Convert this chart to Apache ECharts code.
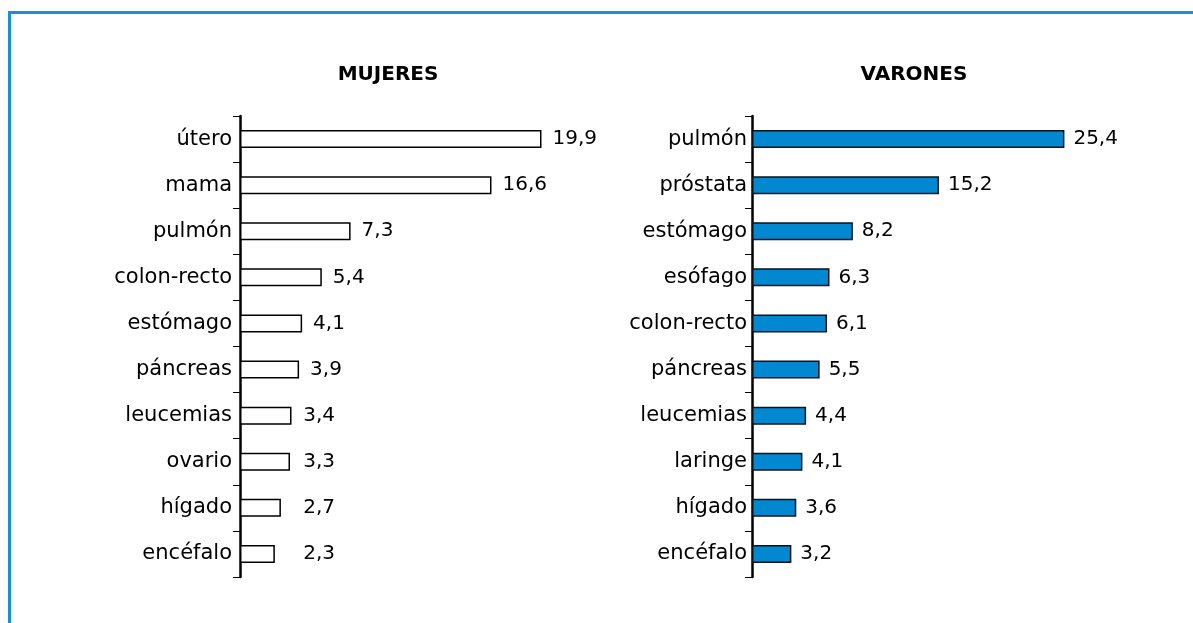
<!DOCTYPE html>
<html>
<head>
<meta charset="utf-8">
<script src="https://cdn.jsdelivr.net/npm/echarts@6/dist/echarts.min.js"></script>
<style>
  html, body { margin: 0; padding: 0; background: #ffffff; }
  #chart { width: 1193px; height: 623px; }
</style>
</head>
<body>
<div id="chart"></div>
<script>
// Tasas de mortalidad por cáncer, por localización
const womenTitle = 'MUJERES';
const menTitle = 'VARONES';

const womenCategories = ['útero', 'mama', 'pulmón', 'colon-recto', 'estómago', 'páncreas', 'leucemias', 'ovario', 'hígado', 'encéfalo'];
const womenValues = [19.9, 16.6, 7.3, 5.4, 4.1, 3.9, 3.4, 3.3, 2.7, 2.3];

const menCategories = ['pulmón', 'próstata', 'estómago', 'esófago', 'colon-recto', 'páncreas', 'leucemias', 'laringe', 'hígado', 'encéfalo'];
const menValues = [25.4, 15.2, 8.2, 6.3, 6.1, 5.5, 4.4, 4.1, 3.6, 3.2];

const AXIS_MAX = 30;
const FONT = '"DejaVu Sans", Verdana, sans-serif';
const BLUE = '#0288d1';
const FRAME = '#1a90d6';
const INK = '#000';

// grid geometry (px)
const grids = [
  { left: 240, width: 454.5, top: 116, height: 461, labelMargin: 8, titleX: 388 },
  { left: 752, width: 369, top: 116, height: 461, labelMargin: 5, titleX: 914 }
];
// value labels never sit closer to the axis than this value (axis units)
const labelFloor = [3.45, 3.1];

const fmt = v => v.toFixed(1).replace('.', ',');

function seriesData(values, gi) {
  const pxPerUnit = grids[gi].width / AXIS_MAX;
  return values.map(v => ({
    value: v,
    label: { offset: [Math.max(0, (labelFloor[gi] - v) * pxPerUnit), 0] }
  }));
}

const catAxis = (cats, gi) => ({
  type: 'category',
  gridIndex: gi,
  data: cats,
  inverse: true,
  axisLine: { show: true, lineStyle: { color: INK, width: 2.5 } },
  axisTick: { show: true, inside: false, length: 7, lineStyle: { color: INK, width: 1 } },
  axisLabel: { color: INK, fontFamily: FONT, fontSize: 21, margin: grids[gi].labelMargin },
  splitLine: { show: false }
});

const valAxis = gi => ({
  type: 'value',
  gridIndex: gi,
  min: 0,
  max: AXIS_MAX,
  show: false,
  splitLine: { show: false }
});

const titleText = (text, gi) => ({
  type: 'text',
  silent: true,
  style: {
    x: grids[gi].titleX, y: 75, text: text,
    align: 'center', verticalAlign: 'middle',
    fill: INK, font: 'bold 20px ' + FONT
  }
});

const option = {
  animation: false,
  backgroundColor: '#ffffff',
  grid: grids.map(g => ({ left: g.left, width: g.width, top: g.top, height: g.height, containLabel: false })),
  xAxis: [valAxis(0), valAxis(1)],
  yAxis: [catAxis(womenCategories, 0), catAxis(menCategories, 1)],
  series: [
    {
      type: 'bar', xAxisIndex: 0, yAxisIndex: 0, barWidth: 18,
      data: seriesData(womenValues, 0),
      itemStyle: { color: '#ffffff', borderColor: INK, borderWidth: 1.5 },
      label: { show: true, position: 'right', distance: 11, color: INK, fontFamily: FONT, fontSize: 20,
               formatter: p => fmt(p.value) }
    },
    {
      type: 'bar', xAxisIndex: 1, yAxisIndex: 1, barWidth: 18,
      data: seriesData(menValues, 1),
      itemStyle: { color: BLUE, borderColor: '#111', borderWidth: 1.5 },
      label: { show: true, position: 'right', distance: 9, color: INK, fontFamily: FONT, fontSize: 20,
               formatter: p => fmt(p.value) }
    }
  ],
  graphic: [
    { type: 'rect', shape: { x: 8, y: 11, width: 3, height: 612 }, style: { fill: FRAME }, silent: true },
    { type: 'rect', shape: { x: 8, y: 11, width: 1185, height: 3 }, style: { fill: FRAME }, silent: true },
    titleText(womenTitle, 0),
    titleText(menTitle, 1)
  ]
};

const chart = echarts.init(document.getElementById('chart'));
chart.setOption(option);
</script>
</body>
</html>
